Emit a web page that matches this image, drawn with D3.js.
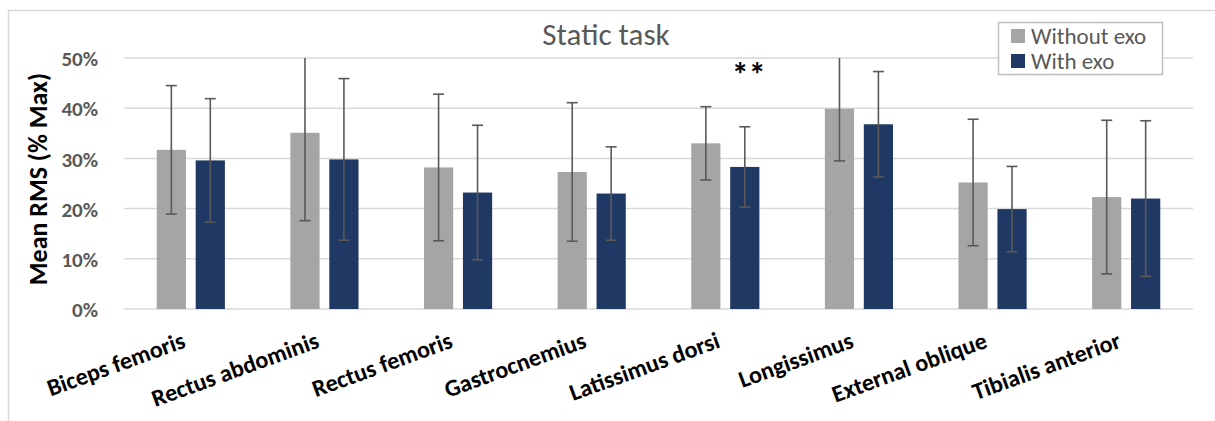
<!DOCTYPE html>
<html>
<head>
<meta charset="utf-8">
<title>Static task</title>
<script src="https://d3js.org/d3.v7.min.js"></script>
<style>
  body { margin: 0; background: #fff; }
  text { font-family: Carlito, Calibri, Lato, sans-serif; }
</style>
</head>
<body>
<div id="chart"></div>
<script>
// data (values in %)
var muscles = ["Biceps femoris", "Rectus abdominis", "Rectus femoris", "Gastrocnemius",
               "Latissimus dorsi", "Longissimus", "External oblique", "Tibialis anterior"];
var withoutExo   = [31.7, 35.1, 28.2, 27.3, 33.0, 39.9, 25.2, 22.3];
var withoutExoSd = [12.8, 17.5, 14.6, 13.8, 7.3, 10.4, 12.6, 15.3];
var withExo      = [29.6, 29.8, 23.2, 23.0, 28.3, 36.8, 19.9, 22.0];
var withExoSd    = [12.3, 16.1, 13.4, 9.3, 8.0, 10.5, 8.5, 15.5];
var seriesNames  = ["Without exo", "With exo"];
var yTicks       = [0, 10, 20, 30, 40, 50];
var significant  = ["Latissimus dorsi"];

var width = 1215, height = 421;
var plotLeft = 124, plotRight = 1193, plotTop = 58, plotBottom = 309;
var colors = ["#A5A5A5", "#203864"];
var yMax = 50;

var svg = d3.select("#chart")
    .append("svg")
    .attr("width", width)
    .attr("height", height);

// chart frame
svg.append("rect")
    .attr("x", 8.5).attr("y", 10.5)
    .attr("width", 1220).attr("height", 430)
    .attr("fill", "none")
    .attr("stroke", "#D9D9D9")
    .attr("stroke-width", 1.5);

var x0 = d3.scaleBand()
    .domain(muscles)
    .range([plotLeft, plotRight])
    .paddingInner(0.49)
    .paddingOuter(0.245);

var x1 = d3.scaleBand()
    .domain(seriesNames)
    .range([0, x0.bandwidth()])
    .paddingInner(0.25);

var y = d3.scaleLinear()
    .domain([0, yMax])
    .range([plotBottom, plotTop]);

// gridlines
svg.append("g")
    .selectAll("line")
    .data(yTicks)
    .enter()
    .append("line")
    .attr("x1", plotLeft).attr("x2", plotRight)
    .attr("y1", function(d) { return y(d); })
    .attr("y2", function(d) { return y(d); })
    .attr("stroke", "#D9D9D9")
    .attr("stroke-width", 1.5);

// y axis labels
var yAxis = svg.append("g")
    .attr("transform", "translate(" + (plotLeft - 23) + ",1)")
    .call(d3.axisLeft(y).tickValues(yTicks).tickSize(0).tickFormat(function(d) { return d + "%"; }));
yAxis.select(".domain").remove();
yAxis.selectAll("text")
    .attr("fill", "#595959")
    .style("font-size", "21px")
    .style("font-weight", "bold");

svg.append("text")
    .attr("transform", "translate(47,179) rotate(-90)")
    .attr("text-anchor", "middle")
    .style("font-size", "26px")
    .style("font-weight", "bold")
    .attr("fill", "#000")
    .text("Mean RMS (% Max)");

// title
svg.append("text")
    .attr("x", 606).attr("y", 45)
    .attr("text-anchor", "middle")
    .style("font-size", "31px")
    .attr("fill", "#595959")
    .text("Static task");

// bars
var rows = muscles.map(function(m, i) {
    return [
        { muscle: m, series: seriesNames[0], value: withoutExo[i], sd: withoutExoSd[i], color: colors[0] },
        { muscle: m, series: seriesNames[1], value: withExo[i], sd: withExoSd[i], color: colors[1] }
    ];
});

var groups = svg.append("g")
    .selectAll("g")
    .data(rows)
    .enter()
    .append("g")
    .attr("transform", function(d) { return "translate(" + x0(d[0].muscle) + ",0)"; });

groups.selectAll("rect")
    .data(function(d) { return d; })
    .enter()
    .append("rect")
    .attr("x", function(d) { return x1(d.series); })
    .attr("width", x1.bandwidth())
    .attr("y", function(d) { return y(d.value); })
    .attr("height", function(d) { return y(0) - y(d.value); })
    .attr("fill", function(d) { return d.color; });

// error bars (clipped at the top of the plot area like Excel does)
var err = groups.selectAll("g.err")
    .data(function(d) { return d; })
    .enter()
    .append("g")
    .attr("class", "err")
    .attr("transform", function(d) { return "translate(" + (x1(d.series) + x1.bandwidth() / 2) + ",0)"; })
    .attr("stroke", "#595959")
    .attr("stroke-width", 1.6);

err.append("line")
    .attr("y1", function(d) { return y(Math.min(yMax, d.value + d.sd)); })
    .attr("y2", function(d) { return y(d.value - d.sd); });

err.filter(function(d) { return d.value + d.sd <= yMax; })
    .append("line")
    .attr("x1", -5.5).attr("x2", 5.5)
    .attr("y1", function(d) { return y(d.value + d.sd); })
    .attr("y2", function(d) { return y(d.value + d.sd); });

err.append("line")
    .attr("x1", -5.5).attr("x2", 5.5)
    .attr("y1", function(d) { return y(d.value - d.sd); })
    .attr("y2", function(d) { return y(d.value - d.sd); });

// significance marker
svg.selectAll("text.sig")
    .data(significant)
    .enter()
    .append("text")
    .attr("class", "sig")
    .attr("x", function(d) { return x0(d) + x1(seriesNames[1]) + x1.bandwidth() / 2 + 4; })
    .attr("y", 86)
    .attr("text-anchor", "middle")
    .style("font-size", "34px")
    .style("font-weight", "bold")
    .attr("fill", "#000")
    .text("**");

// x labels, rotated; the end of each label sits under its category centre
svg.append("g")
    .selectAll("text")
    .data(muscles)
    .enter()
    .append("text")
    .attr("transform", function(d) {
        return "translate(" + (x0(d) + x0.bandwidth() / 2 - 4) + ",347) rotate(-20)";
    })
    .attr("text-anchor", "end")
    .style("font-size", "24px")
    .style("font-weight", "bold")
    .attr("fill", "#000")
    .text(function(d) { return d; });

// legend
var legend = svg.append("g");
legend.append("rect")
    .attr("x", 998.5).attr("y", 22.5)
    .attr("width", 164).attr("height", 52)
    .attr("fill", "#fff")
    .attr("stroke", "#BFBFBF")
    .attr("stroke-width", 1.5);

var items = legend.selectAll("g")
    .data(seriesNames)
    .enter()
    .append("g")
    .attr("transform", function(d, i) { return "translate(1011," + (29 + i * 25) + ")"; });

items.append("rect")
    .attr("width", 14).attr("height", 14)
    .attr("fill", function(d, i) { return colors[i]; });

items.append("text")
    .attr("x", 20).attr("y", 15)
    .style("font-size", "23px")
    .attr("fill", "#595959")
    .text(function(d) { return d; });
</script>
</body>
</html>
